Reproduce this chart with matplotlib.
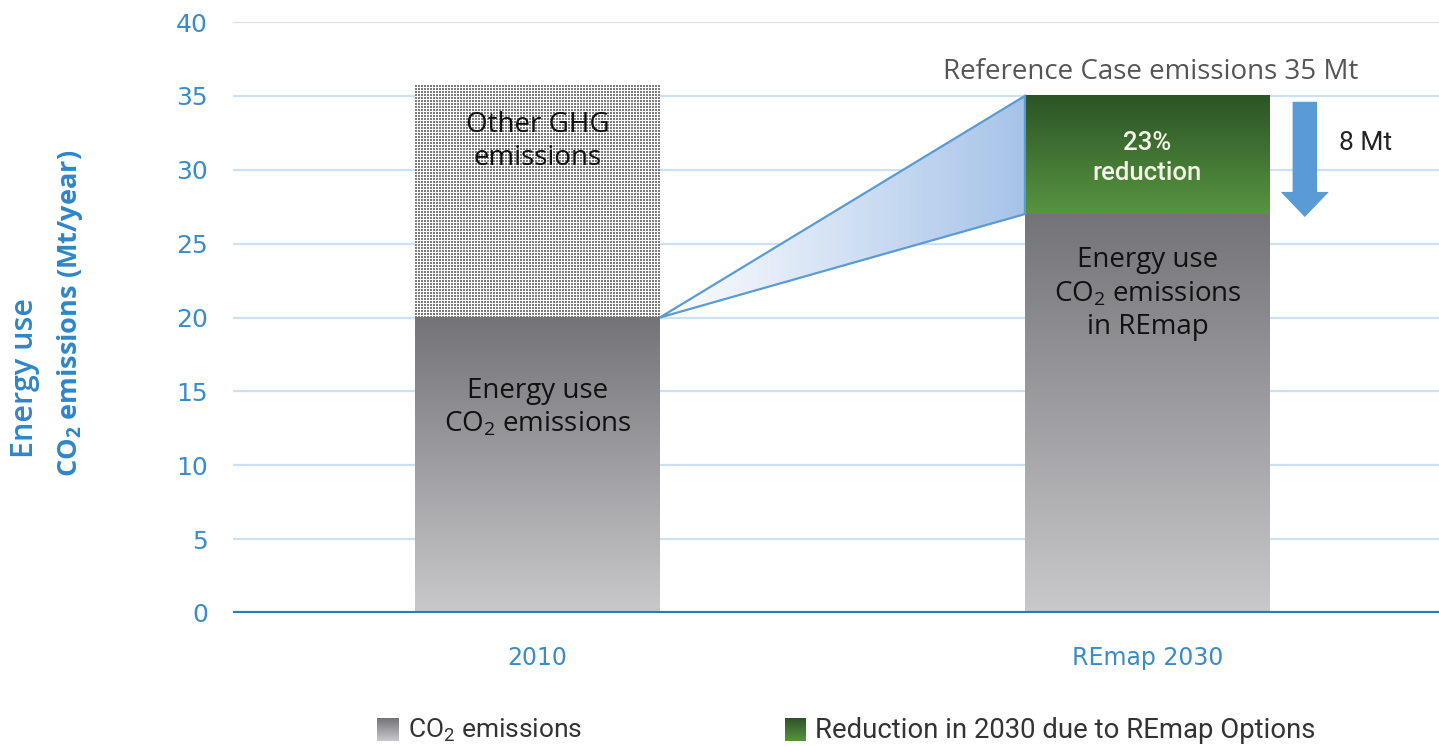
import numpy as np
import matplotlib
matplotlib.use('Agg')
import matplotlib.pyplot as plt
from matplotlib.colors import LinearSegmentedColormap
from matplotlib.patches import Polygon, FancyArrow

plt.rcParams['mathtext.default'] = 'regular'

# chart values (Mt CO2 per year)
categories = ['2010', 'REmap 2030']
energy_co2 = [20, 27]          # energy use CO2 emissions
other_ghg_top = 35.7           # top of the "other GHG" block on 2010
reference_case = 35            # reference case emissions in 2030
reduction = 8                  # reduction due to REmap options
reduction_pct = 23
yticks = [0, 5, 10, 15, 20, 25, 30, 35, 40]

body = 'Open Sans'
cond = 'Roboto'
blue_txt = '#3a8cc9'

fig = plt.figure(figsize=(14.39, 7.46), dpi=100)
ax = fig.add_axes([233 / 1439, 1 - 613 / 746, 1 - 233 / 1439, (613 - 22) / 746])

bw = 0.4016
x = np.arange(len(categories))
ax.set_xlim(-0.499, 1.478)
ax.set_ylim(0, 40)

# gridlines and thick zero line
for t in yticks[1:]:
    ax.axhline(t, color='#cde1f2', lw=1.6, zorder=0)
ax.axhline(0, color='#2b7cbc', lw=3, zorder=6)

gray_cmap = LinearSegmentedColormap.from_list('g', ['#c9c9cb', '#747378'])
green_cmap = LinearSegmentedColormap.from_list('gr', ['#579441', '#2c5426'])
wedge_cmap = LinearSegmentedColormap.from_list('w', ['#ffffff', '#a6c3e8'])
vgrad = np.linspace(0, 1, 256).reshape(-1, 1)

# gray energy-use bars with vertical gradient
for xi, h in zip(x, energy_co2):
    ax.imshow(vgrad, cmap=gray_cmap, origin='lower', aspect='auto',
              extent=[xi - bw / 2, xi + bw / 2, 0, h], zorder=2)

# green reduction block on the 2030 bar
ax.imshow(vgrad, cmap=green_cmap, origin='lower', aspect='auto',
          extent=[x[1] - bw / 2, x[1] + bw / 2, energy_co2[1], reference_case], zorder=2)

# stippled "other GHG" block on the 2010 bar
px_w = int(round(bw * 610))
px_h = int(round((other_ghg_top - energy_co2[0]) * 14.78))
ii, jj = np.mgrid[0:px_h, 0:px_w]
dots = ((ii % 3 < 2) & (jj % 3 < 2)).astype(float)
ax.imshow(dots, cmap=LinearSegmentedColormap.from_list('d', ['#ffffff', '#7c7c7c']),
          origin='upper', aspect='auto', interpolation='nearest',
          extent=[x[0] - bw / 2, x[0] + bw / 2, energy_co2[0], other_ghg_top], zorder=2)

# wedge linking 2010 emissions to the 2030 reference and REmap levels
wedge = [(x[0] + bw / 2, energy_co2[0]),
         (x[1] - bw / 2, reference_case),
         (x[1] - bw / 2, energy_co2[1])]
hgrad = np.linspace(0, 1, 256).reshape(1, -1)
im = ax.imshow(hgrad, cmap=wedge_cmap, aspect='auto',
               extent=[x[0] + bw / 2, x[1] - bw / 2, energy_co2[0], reference_case], zorder=1)
poly = Polygon(wedge, closed=True, facecolor='none', edgecolor='#5b9bd5', lw=1.6, zorder=3)
ax.add_patch(poly)
im.set_clip_path(poly)

# arrow showing the reduction
ax.add_patch(FancyArrow(1.258, reference_case - 0.4, 0, -(reduction - 0.2),
                        width=0.040, head_width=0.079, head_length=1.7,
                        length_includes_head=True, color='#5b9bd5', lw=0, zorder=4))

# labels inside and around the bars
ax.text(x[0], 31.9, 'Other GHG\nemissions', ha='center', va='center',
        fontsize=20, family=body, color='#111111', linespacing=1.25, zorder=5)
ax.text(x[0], 13.9, 'Energy use\nCO$_2$ emissions', ha='center', va='center',
        fontsize=20, family=body, color='#111111', linespacing=1.25, zorder=5)
ax.text(x[1], 21.6, 'Energy use\nCO$_2$ emissions\nin REmap', ha='center', va='center',
        fontsize=20, family=body, color='#111111', linespacing=1.25, zorder=5)
ax.text(x[1], 30.8, f'{reduction_pct}%\nreduction', ha='center', va='center',
        fontsize=18.5, family=cond, fontweight='medium', color='#f4f4e8',
        linespacing=1.35, zorder=5)
ax.text(1.006, 36.6, f'Reference Case emissions {reference_case} Mt', ha='center', va='center',
        fontsize=20, family=body, color='#555555', zorder=5)
ax.text(1.358, 31.8, f'{reduction} Mt', ha='center', va='center',
        fontsize=19, family=cond, color='#222222', zorder=5)

# axes styling
for s in ax.spines.values():
    s.set_visible(False)
ax.set_yticks(yticks)
ax.set_xticks(x)
ax.set_xticklabels(categories)
ax.tick_params(axis='y', length=0, pad=18, labelsize=18, labelcolor=blue_txt)
ax.tick_params(axis='x', length=0, pad=24, labelsize=17, labelcolor=blue_txt)
for lab in ax.get_xticklabels() + ax.get_yticklabels():
    lab.set_family('DejaVu Sans')

fig.text(25 / 1439, 1 - 378 / 746, 'Energy use', rotation=90, ha='center', va='center',
         fontsize=22, color='#2e86c8', family=body, fontweight='semibold')
fig.text(70 / 1439, 1 - 313 / 746, 'CO$_2$ emissions (Mt/year)', rotation=90, ha='center',
         va='center', fontsize=19.5, color='#2e86c8', family=body, fontweight='bold')

# legend along the bottom
lgray = fig.add_axes([377 / 1439, 1 - 741 / 746, 22 / 1439, 23 / 746])
lgray.imshow(vgrad, cmap=gray_cmap, origin='lower', aspect='auto')
lgray.axis('off')
lgreen = fig.add_axes([785 / 1439, 1 - 741 / 746, 21 / 1439, 23 / 746])
lgreen.imshow(vgrad, cmap=green_cmap, origin='lower', aspect='auto')
lgreen.axis('off')
fig.text(408 / 1439, 1 - 730 / 746, 'CO$_2$ emissions', ha='left', va='center',
         fontsize=19, family=cond, color='#333333')
fig.text(815 / 1439, 1 - 730 / 746, 'Reduction in 2030 due to REmap Options', ha='left',
         va='center', fontsize=19.8, family=cond, color='#333333')

fig.savefig('out.png', dpi=100)
